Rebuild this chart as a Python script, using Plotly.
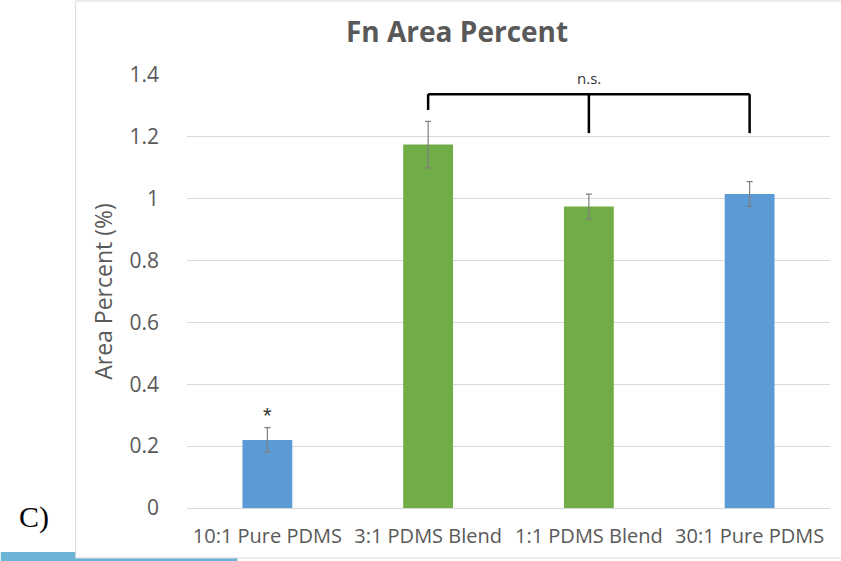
import plotly.graph_objects as go

categories = ["10:1 Pure PDMS", "3:1 PDMS Blend", "1:1 PDMS Blend", "30:1 Pure PDMS"]
values = [0.22, 1.175, 0.975, 1.015]
errors = [0.04, 0.075, 0.04, 0.04]
colors = ["#5B9BD5", "#70AD47", "#70AD47", "#5B9BD5"]
y_ticks = [0, 0.2, 0.4, 0.6, 0.8, 1.0, 1.2, 1.4]
y_tick_labels = ["0", "0.2", "0.4", "0.6", "0.8", "1", "1.2", "1.4"]

# significance bracket (category index, data y)
bracket_top = 1.338
bracket_left_end = 1.287
bracket_right_end = 1.212
star_y = 0.30
ns_y = 1.39

fig = go.Figure()
fig.add_trace(go.Bar(
    x=list(range(len(categories))), y=values,
    marker=dict(color=colors, line=dict(width=0)),
    width=0.31,
    error_y=dict(type="data", array=errors, visible=True, color="#7F7F7F", thickness=1.2, width=3),
    showlegend=False,
))

W, H = 841, 561
L, R, T, B = 186.5, 10.5, 75, 53
pw, ph = W - L - R, H - T - B

def px(x):
    return (x - L) / pw

def py(y):
    return (H - B - y) / ph

shapes = [
    dict(type="rect", xref="paper", yref="paper", x0=px(0), x1=px(237), y0=py(561), y1=py(552),
         fillcolor="#6CB4D6", line=dict(width=0), layer="below"),
    dict(type="rect", xref="paper", yref="paper", x0=px(75), x1=px(845), y0=py(558), y1=py(1),
         fillcolor="white", line=dict(color="#D9D9D9", width=1), layer="below"),
    dict(type="line", xref="x", yref="y", x0=1, x1=3, y0=bracket_top, y1=bracket_top,
         line=dict(color="black", width=2.5)),
    dict(type="line", xref="x", yref="y", x0=1, x1=1, y0=bracket_top, y1=bracket_left_end,
         line=dict(color="black", width=2.5)),
    dict(type="line", xref="x", yref="y", x0=2, x1=2, y0=bracket_top, y1=bracket_right_end,
         line=dict(color="black", width=2.5)),
    dict(type="line", xref="x", yref="y", x0=3, x1=3, y0=bracket_top, y1=bracket_right_end,
         line=dict(color="black", width=2.5)),
]

annotations = [
    dict(x=2, y=ns_y, xref="x", yref="y", text="n.s.", showarrow=False,
         font=dict(size=15, color="#333333", family="Open Sans, Liberation Sans, sans-serif")),
    dict(x=0, y=star_y, xref="x", yref="y", text="*", showarrow=False,
         font=dict(size=22, color="#333333", family="Liberation Sans, sans-serif")),
    dict(x=px(33), y=py(517), xref="paper", yref="paper", xanchor="center", yanchor="middle",
         text="C)", showarrow=False,
         font=dict(size=30, color="black", family="Liberation Serif, DejaVu Serif, serif")),
]

fig.update_layout(
    width=W, height=H,
    margin=dict(l=L, r=R, t=T, b=B),
    paper_bgcolor="white", plot_bgcolor="white",
    title=dict(text="<b>Fn Area Percent</b>", xref="paper", x=px(457), xanchor="center",
               y=1 - 32 / H, yanchor="middle",
               font=dict(size=28, color="#595959", family="Open Sans, Liberation Sans, sans-serif")),
    shapes=shapes, annotations=annotations,
    font=dict(family="Open Sans, Liberation Sans, sans-serif", color="#595959"),
)
fig.update_xaxes(
    tickmode="array", tickvals=list(range(len(categories))), ticktext=categories,
    range=[-0.5, 3.5], showgrid=False, showline=True, linecolor="#D9D9D9", linewidth=1,
    ticks="", tickfont=dict(size=20, color="#595959"), ticklabelstandoff=10,
)
fig.update_yaxes(
    range=[0, 1.4], tickmode="array", tickvals=y_ticks, ticktext=y_tick_labels,
    showgrid=True, gridcolor="#D9D9D9", gridwidth=1, zeroline=False, showline=False,
    tickfont=dict(size=21, color="#595959"), ticklabelstandoff=27,
    title=dict(text="Area Percent (%)", font=dict(size=23, color="#595959"), standoff=10),
)

fig.write_html("out.html", config={"displayModeBar": False},
               post_script="document.body.style.margin='0';")
